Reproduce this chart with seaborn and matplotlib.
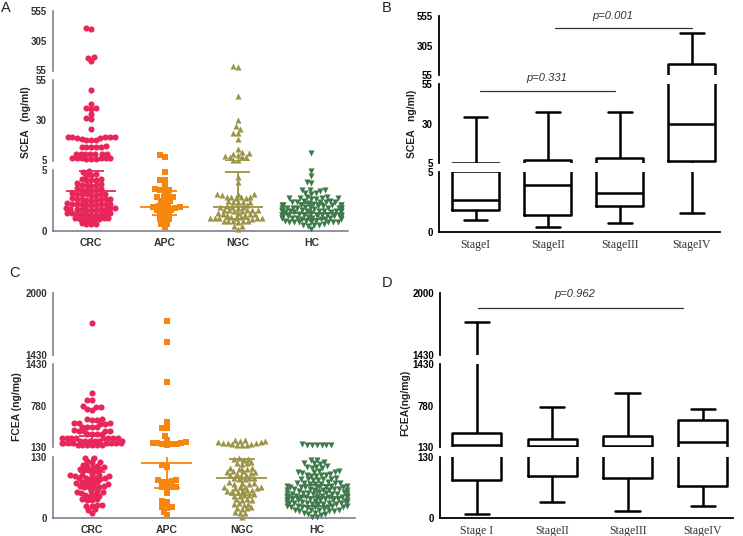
import numpy as np
import pandas as pd
import matplotlib
matplotlib.use("Agg")
import matplotlib.pyplot as plt
from matplotlib.collections import PathCollection
import seaborn as sns

sns.set_style("white")
plt.rcParams["font.family"] = ["Liberation Sans", "DejaVu Sans"]

# ---- data ----
groups = ["CRC", "APC", "NGC", "HC"]
group_colors = ["#e8265a", "#f7860f", "#9c9447", "#3f7a4b"]
group_markers = ["o", "s", "^", "v"]

# panel A: serum CEA (ng/ml)
scea_crc = [410, 405, 166, 137, 163,
            48.8, 40.1, 37.6, 37.2, 37.4, 33.9, 31.2, 31.0, 24.6, 19.6, 19.2, 19.8, 19.4, 19.0, 19.5,
            19.3, 18.0, 17.8, 18.2, 17.6, 13.6, 13.4, 13.8, 13.2, 13.6, 13.5, 9.2, 9.0, 8.8, 9.1, 9.3,
            8.9, 9.0, 6.4, 6.2, 6.5, 6.3, 6.1, 6.6, 6.0, 6.3, 6.4,
            4.9, 4.85, 4.6, 4.55, 4.65, 4.2, 4.25, 4.15, 4.3, 4.2, 3.8, 3.85, 3.75, 3.9, 3.8, 3.7,
            3.4, 3.45, 3.35, 3.5, 3.4, 3.3, 3.0, 3.05, 2.95, 3.1, 3.0, 2.9, 3.0, 3.05, 2.6, 2.65,
            2.55, 2.7, 2.6, 2.5, 2.6, 2.65, 2.55, 2.2, 2.25, 2.15, 2.3, 2.2, 2.1, 2.2, 2.25, 2.15,
            2.2, 1.8, 1.85, 1.75, 1.9, 1.8, 1.7, 1.8, 1.85, 1.75, 1.8, 1.8, 1.4, 1.45, 1.35, 1.5,
            1.4, 1.3, 1.4, 1.45, 1.35, 1.4, 1.0, 1.05, 0.95, 1.1, 1.0, 0.9, 1.0, 1.05, 0.6, 0.55,
            0.65, 0.6]
scea_apc = [8.4, 7.0, 4.8, 4.2, 4.15, 3.7, 3.4, 3.35, 3.3, 3.45, 2.8, 2.85, 2.75, 2.8, 2.5, 2.45,
            2.5, 2.0, 2.05, 1.95, 2.0, 2.1, 1.9, 1.7, 1.65, 1.75, 1.7, 1.35, 1.3, 1.4, 0.95, 0.9,
            1.0, 0.6, 0.55, 0.3]
scea_ngc = [90, 84, 45, 30.2, 26.4, 24.6, 22.3, 22.1, 18.4, 12.1, 10.0, 9.6, 9.3, 8.6, 7.4, 7.5,
            7.1, 7.3, 5.4, 5.3,
            4.4, 4.0, 3.0, 3.05, 2.95, 3.0, 2.75, 2.8, 2.7, 2.75, 2.8, 2.7, 2.4, 2.45, 2.35, 2.4,
            2.4, 2.0, 2.05, 1.95, 2.0, 2.1, 1.9, 1.7, 1.75, 1.65, 1.7, 1.7, 1.6, 1.75, 1.4, 1.45,
            1.35, 1.4, 1.4, 1.3, 1.45, 1.1, 1.15, 1.05, 1.1, 1.1, 1.0, 1.15, 1.05, 1.1, 0.8, 0.85,
            0.75, 0.8, 0.85, 0.8, 0.45, 0.4, 0.2]
scea_hc = [9.8, 4.9, 4.5, 3.95, 4.0, 3.35, 3.4, 3.3, 3.35, 3.1, 3.05, 3.1, 2.7, 2.75, 2.65, 2.7,
           2.7, 2.8, 2.6, 2.7, 2.4, 2.45, 2.35, 2.4, 2.4, 2.5, 2.3, 2.4, 2.1, 2.15, 2.05, 2.1, 2.1,
           2.2, 2.0, 2.1, 2.15, 2.05, 1.85, 1.9, 1.8, 1.85, 1.85, 1.95, 1.75, 1.85, 1.9, 1.8, 1.85,
           1.9, 1.6, 1.65, 1.55, 1.6, 1.6, 1.7, 1.5, 1.6, 1.65, 1.55, 1.6, 1.6, 1.65, 1.55, 1.3,
           1.35, 1.25, 1.3, 1.3, 1.4, 1.2, 1.3, 1.35, 1.25, 1.3, 1.3, 1.35, 1.25, 1.05, 1.1, 1.0,
           1.05, 1.05, 1.15, 0.95, 1.05, 1.1, 1.0, 1.05, 1.0, 0.75, 0.8, 0.7, 0.75, 0.75, 0.85,
           0.7, 0.8, 0.75, 0.75, 0.5, 0.55, 0.45, 0.5, 0.5, 0.2]
scea_center = [3.28, 1.97, 1.95, 1.48]
scea_low = [1.6, 1.3, 1.0, 1.0]
scea_high = [4.9, 3.28, 4.85, 2.3]

# panel C: fecal CEA (ng/mg)
fcea_crc = [1728,
            985, 875, 865, 770, 762, 765, 725, 720, 575, 570, 565, 560, 505, 510, 500, 508, 502, 455,
            450, 448, 452, 390, 392, 388, 395, 385, 340, 338, 336, 342, 280, 278, 275, 282, 276, 272,
            279, 281, 230, 232, 228, 235, 226, 233, 195, 193, 190, 197, 192, 194, 191, 196, 168, 166,
            170, 165, 167, 164,
            128, 127, 119, 120, 118, 110, 111, 109, 112, 108, 102, 103, 101, 100, 104, 91, 92, 90,
            93, 89, 91, 84, 85, 83, 86, 82, 84, 75, 76, 74, 77, 73, 75, 67, 68, 66, 69, 65, 67, 56,
            57, 55, 58, 54, 49, 50, 48, 47, 39, 40, 38, 41, 28, 29, 27, 26, 19, 18, 12]
fcea_apc = [1744, 1547, 1157, 531, 440, 430, 312, 244, 205, 200, 195, 210, 178, 175, 180, 172,
            112, 109, 81, 80, 77, 76, 78, 66, 65, 64, 66, 53, 36, 34, 24, 23, 22, 14, 7]
fcea_ngc = [250, 240, 232, 225, 215, 210, 200, 195, 190, 185, 180, 172, 165, 160,
            128, 126, 125, 124, 116, 117, 115, 118, 105, 106, 104, 107, 98, 99, 97, 100, 96, 91, 92,
            90, 93, 84, 85, 83, 86, 82, 74, 75, 73, 76, 72, 65, 66, 64, 67, 63, 65, 58, 59, 57, 60,
            56, 58, 49, 50, 48, 51, 47, 39, 40, 38, 41, 30, 31, 29, 32, 21, 22, 20, 23, 12, 13, 11, 2]
fcea_hc = [175, 172, 168, 170, 165, 168, 160,
           124, 123, 116, 117, 115, 118, 108, 109, 107, 110, 106, 98, 99, 97, 100, 96, 98, 91, 92,
           90, 93, 89, 91, 82, 83, 81, 84, 80, 82, 83, 74, 75, 73, 76, 72, 74, 75, 73, 67, 68, 66,
           69, 65, 67, 68, 66, 67, 60, 61, 59, 62, 58, 60, 61, 59, 60, 62, 53, 54, 52, 55, 51, 53,
           54, 52, 53, 55, 52, 46, 47, 45, 48, 44, 46, 47, 45, 46, 48, 44, 46, 39, 40, 38, 41, 37,
           39, 40, 38, 39, 41, 37, 39, 32, 33, 31, 34, 30, 32, 33, 31, 32, 34, 30, 32, 24, 25, 23,
           26, 22, 24, 25, 23, 24, 26, 17, 18, 16, 19, 15, 17, 18, 16, 10, 11, 9, 12, 8, 2, 3]
fcea_center = [166, 116, 84, 46]
fcea_low = [98, 63, 50, 25]
fcea_high = [300, 200, 124.5, 70]

# panel B: SCEA by stage (min, q1, median, q3, max)
stages_b = ["StageI", "StageII", "StageIII", "StageIV"]
scea_min = [1.01, 0.45, 0.76, 1.6]
scea_q1 = [1.83, 1.40, 2.16, 6.05]
scea_med = [2.64, 3.88, 3.29, 30]
scea_q3 = [5.1, 6.9, 7.95, 152]
scea_max = [34.1, 37.3, 37.3, 411]

# panel D: FCEA by stage
stages_d = ["Stage I", "StageII", "StageIII", "StageIV"]
fcea_min = [8.4, 34.4, 15.5, 26.7]
fcea_q1 = [80.8, 90, 85.7, 68.9]
fcea_med = [172, 156, 156, 219]
fcea_q3 = [349, 260, 313, 558]
fcea_max = [1732, 767, 986, 730]

# ---- layout ----
W, H = 743, 536
fig = plt.figure(figsize=(W / 100, H / 100), dpi=100)


def seg_axes(left, right, segs):
    return [fig.add_axes([left / W, 1 - b / H, (right - left) / W, (b - t) / H]) for t, b in segs]


s_ylims = [(55, 555), (5, 55), (0, 5)]
s_ticks = [[55, 305, 555], [5, 30, 55], [0, 5]]
f_ylims = [(1430, 2000), (130, 1430), (0, 130)]
f_ticks = [[1430, 2000], [130, 780, 1430], [0, 130]]

axA = seg_axes(53, 348, [(11, 70.5), (80, 160.5), (170, 231)])
axB = seg_axes(439, 720, [(16, 75), (84, 163), (172, 232)])
axC = seg_axes(53, 355, [(293.3, 355), (364.3, 447.3), (456.7, 518.3)])
axD = seg_axes(440, 733, [(293.3, 355), (364.3, 447.3), (456.7, 518.3)])


def in_seg(v, k, ylims):
    if k == 0:
        return v > ylims[1][1]
    if k == 1:
        return (v > ylims[2][1]) & (v <= ylims[1][1])
    return v <= ylims[2][1]


def scatter_panel(axs, series, centers, lows, highs, ylims):
    pos = np.arange(len(groups))
    for k, ax in enumerate(axs):
        for g, vals in enumerate(series):
            v = np.asarray(vals, dtype=float)
            v = v[in_seg(v, k, ylims)]
            if len(v) == 0:
                continue
            df = pd.DataFrame({"group": groups[g], "value": v})
            # swarm laid out with a smaller marker, enlarged later (prism style overlap)
            sns.swarmplot(data=df, x="group", y="value", order=groups, color=group_colors[g],
                          marker=group_markers[g], size=3.3, linewidth=0, clip_on=False,
                          warn_thresh=1, ax=ax)
        ax.hlines(centers, pos - 0.34, pos + 0.34, colors=group_colors, lw=1.3, zorder=4)
        ax.vlines(pos, lows, highs, colors=group_colors, lw=1.3, zorder=4)
        ax.hlines(highs, pos - 0.17, pos + 0.17, colors=group_colors, lw=1.3, zorder=4)
        ax.hlines(lows, pos - 0.17, pos + 0.17, colors=group_colors, lw=1.3, zorder=4)


def box_panel(axs, labels, mins, q1s, meds, q3s, maxs):
    vals = np.column_stack([mins, q1s, meds, q3s, maxs]).ravel()
    df = pd.DataFrame({"stage": np.repeat(labels, 5), "value": vals})
    for ax in axs:
        sns.boxplot(data=df, x="stage", y="value", order=labels, whis=(0, 100), width=0.65,
                    fill=False, color="black", linewidth=1.8, showfliers=False, ax=ax)


def style(axs, ylims, yticks, xlim, xlabels, axis_color, lw, xfont):
    for k, ax in enumerate(axs):
        ax.set_ylim(*ylims[k])
        ax.set_yticks(yticks[k])
        ax.set_xlim(*xlim)
        ax.set_xlabel("")
        ax.set_ylabel("")
        ax.patch.set_alpha(0)
        ax.spines["top"].set_visible(False)
        ax.spines["right"].set_visible(False)
        ax.spines["left"].set_color(axis_color)
        ax.spines["left"].set_linewidth(lw)
        ax.tick_params(axis="y", length=3.5, width=lw, color=axis_color, pad=1,
                       labelsize=7, labelcolor="#333333" if axis_color != "black" else "black")
        for lab in ax.get_yticklabels():
            lab.set_fontweight("bold")
        if k < 2:
            ax.spines["bottom"].set_visible(False)
            ax.set_xticks([])
        else:
            ax.spines["bottom"].set_color(axis_color)
            ax.spines["bottom"].set_linewidth(lw)
            ax.set_xticks(range(len(xlabels)))
            ax.set_xticklabels(xlabels)
            ax.tick_params(axis="x", length=3, width=lw, color=axis_color, pad=2)
            for lab in ax.get_xticklabels():
                if xfont == "sans":
                    lab.set_fontweight("bold")
                    lab.set_fontsize(7.5)
                    lab.set_color("#333333")
                else:
                    lab.set_family(["Liberation Serif", "DejaVu Serif"])
                    lab.set_fontsize(8.5)
                    lab.set_color("#333333")


scatter_panel(axA, [scea_crc, scea_apc, scea_ngc, scea_hc], scea_center, scea_low, scea_high, s_ylims)
scatter_panel(axC, [fcea_crc, fcea_apc, fcea_ngc, fcea_hc], fcea_center, fcea_low, fcea_high, f_ylims)
box_panel(axB, stages_b, scea_min, scea_q1, scea_med, scea_q3, scea_max)
box_panel(axD, stages_d, fcea_min, fcea_q1, fcea_med, fcea_q3, fcea_max)

grey_axis = "#74748c"
style(axA, s_ylims, s_ticks, (-0.52, 3.5), groups, grey_axis, 1.1, "sans")
style(axC, f_ylims, f_ticks, (-0.52, 3.51), groups, grey_axis, 1.1, "sans")
style(axB, s_ylims, s_ticks, (-0.51, 3.39), stages_b, "black", 1.3, "serif")
style(axD, f_ylims, f_ticks, (-0.49, 3.4), stages_d, "black", 1.3, "serif")

# significance bars
pcol = "#333333"
axB[0].plot([1.1, 3.0], [455, 455], color=pcol, lw=0.9, clip_on=False)
axB[0].text(1.9, 555, "p=0.001", ha="center", va="center", style="italic", fontsize=8, color=pcol)
axB[1].plot([0.06, 1.93], [50.8, 50.8], color=pcol, lw=0.9, clip_on=False)
axB[1].text(0.99, 58.5, "p=0.331", ha="center", va="center", style="italic", fontsize=8,
            color=pcol, clip_on=False)
axD[0].plot([0.01, 2.74], [1867, 1867], color=pcol, lw=0.9, clip_on=False)
axD[0].text(1.3, 1994, "p=0.962", ha="center", va="center", style="italic", fontsize=8,
            color=pcol, clip_on=False)

# axis titles and panel letters
ylab = dict(rotation=90, ha="center", va="center", fontsize=7.5, fontweight="bold", color="#222222")
fig.text(26 / W, 1 - 122 / H, "SCEA   (ng/ml)", **ylab)
fig.text(412 / W, 1 - 124 / H, "SCEA   ng/ml)", **ylab)
fig.text(17.5 / W, 1 - 407 / H, "FCEA (ng/mg)", **ylab)
fig.text(405 / W, 1 - 403 / H, "FCEA(ng/mg)", **ylab)

for x, y, t in [(6, 8, "A"), (387, 8, "B"), (15, 273, "C"), (387, 283, "D")]:
    fig.text(x / W, 1 - y / H, t, ha="center", va="center", fontsize=10.5, color="#222222")

# lay the swarms out once, then freeze them and draw the markers at full size
fig.canvas.draw()
for ax in axA + axC:
    for coll in ax.collections:
        if isinstance(coll, PathCollection):
            coll.__dict__.pop("draw", None)
            coll.set_sizes([4.4 ** 2])

fig.savefig("out.png", dpi=100)
